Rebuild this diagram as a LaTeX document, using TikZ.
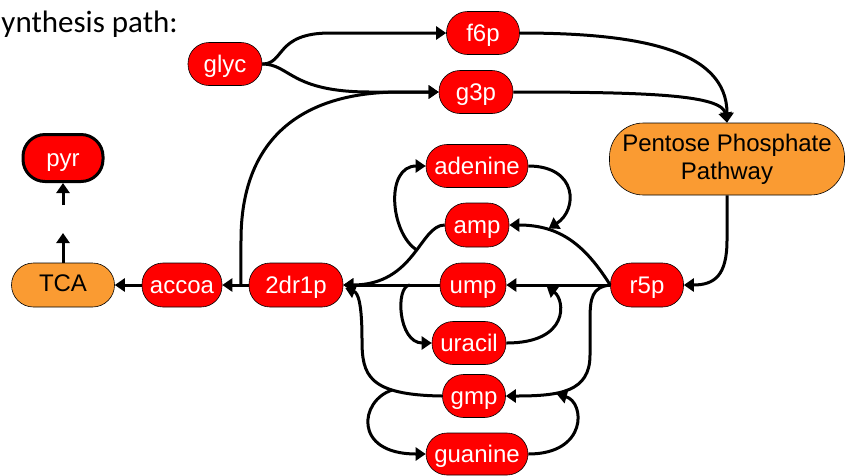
\documentclass[tikz,border=0pt]{standalone}
\usepackage{fontspec}
\setmainfont{Liberation Sans}
\newfontfamily\titlefont{Carlito}
\usetikzlibrary{arrows.meta}
\definecolor{pathorange}{RGB}{250,155,50}
\begin{document}
\begin{tikzpicture}[x=1pt,y=-1pt,
  met/.style={draw=black, line width=0.6pt, fill=red, text=white, rounded corners=21pt,
    minimum height=43pt, inner sep=0pt, text height=21pt, text depth=5pt,
    font=\fontsize{24}{28}\selectfont},
  orng/.style={draw=black, line width=0.6pt, fill=pathorange, text=black, inner sep=0pt,
    font=\fontsize{24}{28}\selectfont},
  flow/.style={line width=3pt, -{Triangle[length=10pt,width=13pt]}}]
\useasboundingbox (0,0) rectangle (858,475);

% title
\node[anchor=base east, inner sep=0pt, font=\titlefont\fontsize{31}{34}\selectfont] (title) at (178,32) {ynthesis path:};

% nodes
\node[met, minimum width=74pt] (glyc) at (225,64) {glyc};
\node[met, minimum width=73pt] (f6p) at (483,33) {f6p};
\node[met, minimum width=74pt] (g3p) at (476,92) {g3p};
\node[orng, minimum width=235pt, minimum height=72pt, rounded corners=34pt, align=center] (ppp) at (727,159) {Pentose Phosphate\\Pathway};
\node[met, minimum width=80pt, minimum height=47pt, line width=3pt, rounded corners=22pt] (pyr) at (63,158) {pyr};
\node[orng, minimum width=103pt, minimum height=44pt, rounded corners=22pt,
  text height=18pt, text depth=6pt] (tca) at (63,285) {TCA};
\node[met, minimum width=80pt, minimum height=44pt] (accoa) at (182,285) {accoa};
\node[met, minimum width=94pt, minimum height=44pt] (dr) at (296,285) {2dr1p};
\node[met, minimum width=102pt] (adenine) at (477,166) {adenine};
\node[met, minimum width=64pt, minimum height=44pt] (amp) at (477,225) {amp};
\node[met, minimum width=66pt, minimum height=44pt] (ump) at (473,285) {ump};
\node[met, minimum width=73pt, minimum height=44pt] (r5p) at (647,285) {r5p};
\node[met, minimum width=74pt] (uracil) at (469,343) {uracil};
\node[met, minimum width=63pt] (gmp) at (474,396) {gmp};
\node[met, minimum width=102pt, minimum height=42pt] (guanine) at (477,454) {guanine};

\coordinate (tcaUp) at (63,233);
\coordinate (pyrFrom) at (63,205);

% glycolysis part
\draw[flow] (glyc.east) .. controls (285,64) and (275,33) .. (330,33) -- (f6p.west);
\draw[flow] (glyc.east) .. controls (290,64) and (290,92) .. (370,92) -- (g3p.west);
\draw[flow] (f6p.east) .. controls (640,33) and (727,50) .. (ppp.north);
\draw[flow] (g3p.east) .. controls (650,92) and (722,95) .. (ppp.north);
\draw[flow] (ppp.south) -- (727,240) .. controls (727,275) and (715,285) .. (r5p.east);

% main line
\draw[flow] (dr.west) -- coordinate[pos=0.3] (jP) (accoa.east);
\draw[flow] (jP) -- (241,240) .. controls (241,140) and (300,92) .. (400,92) -- (g3p.west);
\draw[flow] (accoa.west) -- (tca.east);
\draw[flow] (tca.north) -- (tcaUp);
\draw[flow] (pyrFrom) -- (pyr.south);

% r5p to nucleotides
\draw[flow] (r5p.west) -- coordinate[pos=0.61] (jUin) (ump.east);
\draw[flow] (r5p.west) .. controls (585,245) and (560,225) .. coordinate[pos=0.7] (jAin) (amp.east);
\draw[flow] (r5p.west) .. controls (592,287) and (590,298) .. (590,320) -- (590,355)
  .. controls (590,392) and (560,396) .. coordinate[pos=0.62] (jGin) (gmp.east);

% nucleotides to 2dr1p
\draw[flow] (amp.west) .. controls (420,225) and (415,285) .. coordinate[pos=0.44] (jA) (dr.east);
\draw[flow] (ump.west) -- coordinate[pos=0.31] (jU) (dr.east);
\draw[flow] (gmp.west) .. controls (368,395) and (362,375) .. coordinate[pos=0.3] (jG) (362,340)
  .. controls (362,303) and (358,293) .. ([shift={(2pt,-3pt)}]dr.east);

% bases
\draw[flow] (jA) .. controls (390,232) and (385,166) .. (adenine.west);
\draw[flow] (adenine.east) .. controls (578,166) and (578,210) .. ([yshift=2pt]jAin);
\draw[flow] (jU) .. controls (395,286) and (398,343) .. (uracil.west);
\draw[flow] (uracil.east) .. controls (570,343) and (565,300) .. ([yshift=-1.5pt]jUin);
\draw[flow] (jG) .. controls (360,400) and (352,454) .. (guanine.west);
\draw[flow] (guanine.east) .. controls (588,454) and (585,402) .. ([yshift=-1.5pt]jGin);
\end{tikzpicture}
\end{document}
